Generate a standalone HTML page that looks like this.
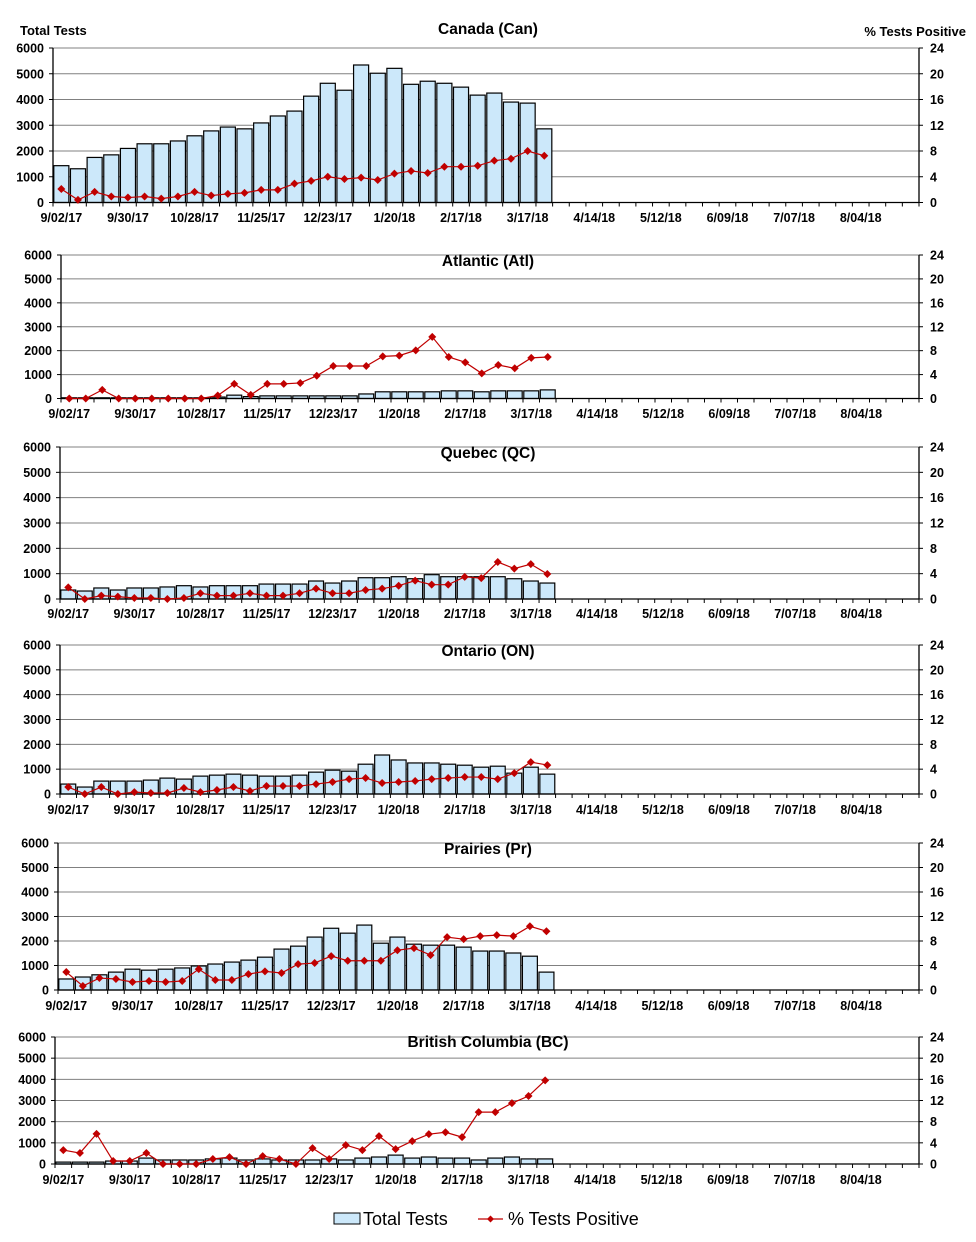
<!DOCTYPE html>
<html><head><meta charset="utf-8"><style>
body{margin:0;background:#fff;}
svg{display:block;font-family:"Liberation Sans",Arial,sans-serif;}
</style></head><body>
<svg id="chart" width="976" height="1242" viewBox="0 0 976 1242" xmlns="http://www.w3.org/2000/svg">
<text x="20" y="35" font-size="13" font-weight="bold">Total Tests</text>
<text x="966" y="36" font-size="13" font-weight="bold" text-anchor="end">% Tests Positive</text>
<g>
<rect x="334" y="1213" width="26" height="11" fill="#cce8fa" stroke="#000" stroke-width="1"/>
<text x="363" y="1225" font-size="18">Total Tests</text>
<line x1="478" y1="1219" x2="503" y2="1219" stroke="#c00000" stroke-width="1.2"/>
<path d="M490.5 1215.5 L494 1219 L490.5 1222.5 L487 1219 Z" fill="#c00000"/>
<text x="508" y="1225" font-size="18">% Tests Positive</text>
</g>
</svg>
<script>
const tickLabels = ["9/02/17","9/30/17","10/28/17","11/25/17","12/23/17","1/20/18","2/17/18","3/17/18","4/14/18","5/12/18","6/09/18","7/07/18","8/04/18"];
const leftTicks = [0,1000,2000,3000,4000,5000,6000];
const rightTicks = [0,4,8,12,16,20,24];
const regionNames = ["Canada (Can)","Atlantic (Atl)","Quebec (QC)","Ontario (ON)","Prairies (Pr)","British Columbia (BC)"];
const canTests = [1430,1310,1750,1850,2100,2280,2280,2390,2590,2780,2930,2860,3090,3360,3550,4130,4630,4360,5340,5020,5210,4590,4710,4630,4480,4170,4250,3900,3860,2860];
const canPos = [2.1,0.4,1.65,0.93,0.77,0.93,0.6,0.93,1.65,1.08,1.34,1.5,1.96,1.96,2.93,3.35,4.0,3.65,3.86,3.5,4.48,4.9,4.58,5.56,5.56,5.7,6.5,6.8,8.0,7.26];
const atlTests = [30,30,30,30,30,30,30,30,30,60,140,80,110,110,110,110,110,110,190,280,280,280,280,320,320,280,320,320,320,360];
const atlPos = [0,0,1.44,0,0,0,0,0,0,0.5,2.44,0.6,2.44,2.44,2.6,3.8,5.44,5.44,5.44,7.05,7.17,8.05,10.3,6.94,6.05,4.2,5.6,5.05,6.8,6.94];
const qcTests = [355,315,435,355,435,435,475,525,475,525,525,525,590,590,590,710,630,710,840,840,880,800,960,880,880,880,880,800,710,630];
const qcPos = [1.84,0,0.53,0.37,0.16,0.16,0,0.16,0.9,0.53,0.53,0.9,0.53,0.53,0.9,1.63,0.9,0.9,1.42,1.63,2.1,2.9,2.26,2.26,3.5,3.3,5.84,4.8,5.5,3.95];
const onTests = [400,280,520,520,520,560,640,600,720,760,800,760,720,720,760,880,960,920,1200,1570,1370,1250,1250,1200,1160,1080,1120,840,1080,800];
const onPos = [1.12,0,1.12,0,0.3,0.16,0.16,0.96,0.3,0.64,1.12,0.48,1.28,1.28,1.28,1.6,1.93,2.4,2.57,1.77,1.93,2.1,2.4,2.57,2.73,2.73,2.4,3.37,5.14,4.66];
const prTests = [450,530,620,730,850,810,850,900,980,1060,1140,1220,1340,1670,1790,2160,2520,2320,2650,1910,2160,1870,1830,1830,1750,1590,1590,1510,1380,730];
const prPos = [2.93,0.65,1.95,1.8,1.3,1.47,1.3,1.47,3.4,1.63,1.63,2.6,3.04,2.77,4.23,4.4,5.54,4.78,4.78,4.78,6.5,6.84,5.7,8.63,8.3,8.8,8.96,8.8,10.4,9.6];
const bcTests = [90,90,90,140,140,280,190,190,190,240,280,190,240,190,190,190,240,190,280,330,420,280,330,280,280,190,280,330,240,240];
const bcPos = [2.63,2.07,5.7,0.56,0.56,2.07,0,0,0,0.94,1.3,0,1.5,0.94,0,3.0,0.94,3.57,2.63,5.27,2.82,4.33,5.64,6.0,5.08,9.8,9.8,11.5,12.85,15.8];
const seriesTests = [canTests,atlTests,qcTests,onTests,prTests,bcTests];
const seriesPos = [canPos,atlPos,qcPos,onPos,prPos,bcPos];

const NCAT = 52, TMAX = 6000, PMAX = 24;
const geom = [
 {top:48,bottom:202.5,left:53,right:919,ty:34,ly:222},
 {top:255,bottom:398.5,left:61,right:919,ty:266,ly:418},
 {top:447,bottom:599,left:60,right:919,ty:458,ly:618},
 {top:645,bottom:794,left:60,right:919,ty:656,ly:814},
 {top:843,bottom:990,left:58,right:919,ty:854,ly:1010},
 {top:1037,bottom:1164,left:55,right:919,ty:1047,ly:1184}
];
const NS = "http://www.w3.org/2000/svg";
const svg = document.getElementById('chart');
function mk(tag, attrs, parent){const e=document.createElementNS(NS,tag);for(const k in attrs)e.setAttribute(k,attrs[k]);parent.appendChild(e);return e;}

geom.forEach((g,pi)=>{
  const cw=(g.right-g.left)/NCAT;
  const xC=i=>g.left+cw*(i+0.5);
  const yL=v=>g.bottom-(v/TMAX)*(g.bottom-g.top);
  const yR=v=>g.bottom-(v/PMAX)*(g.bottom-g.top);
  const grp=mk('g',{},svg);
  
  
  leftTicks.forEach(t=>{
    const y=yL(t);
    if(t>0){const gl=mk('line',{x1:g.left,x2:g.right,y1:y,y2:y,stroke:'#808080','stroke-width':1},grp);
      
      }
    const tk=mk('line',{x1:g.left-4,x2:g.left,y1:y,y2:y,stroke:'#000'},grp);
    
    
    const tx=mk('text',{x:g.left-9,y:y+4.5,'font-size':12.5,'font-weight':'bold','text-anchor':'end'},grp);
    tx.textContent=t;
    
    
  });
  rightTicks.forEach(t=>{
    const y=yR(t);
    const tk=mk('line',{x1:g.right,x2:g.right+4,y1:y,y2:y,stroke:'#000'},grp);
    
    
    const tx=mk('text',{x:g.right+11,y:y+4.5,'font-size':12.5,'font-weight':'bold'},grp);
    tx.textContent=t;
    
    
  });
  // bars
  seriesTests[pi].forEach((v,i)=>{
    const y=yL(v);
    const b=mk('rect',{x:g.left+cw*i+0.8,y:y,width:cw-1.6,height:Math.max(g.bottom-y,0),fill:'#cce8fa',stroke:'#000','stroke-width':1.2},grp);
    
    
  });
  // axes
  const ax=mk('line',{x1:g.left,x2:g.right,y1:g.bottom,y2:g.bottom,stroke:'#000','stroke-width':1.3},grp);
  
  
  const la=mk('line',{x1:g.left,x2:g.left,y1:g.top,y2:g.bottom,stroke:'#000','stroke-width':1.3},grp);
  
  
  const ra=mk('line',{x1:g.right,x2:g.right,y1:g.top,y2:g.bottom,stroke:'#000','stroke-width':1.3},grp);
  
  
  for(let i=0;i<=NCAT;i++){
    const x=g.left+cw*i;
    const t=mk('line',{x1:x,x2:x,y1:g.bottom,y2:g.bottom+4,stroke:'#000'},grp);
    
    
  }
  tickLabels.forEach((l,k)=>{
    const tx=mk('text',{x:xC(k*4),y:g.ly,'font-size':12.5,'font-weight':'bold','text-anchor':'middle'},grp);
    tx.textContent=l;
    
    
  });
  // line
  const pts=seriesPos[pi].map((v,i)=>xC(i)+','+yR(v)).join(' ');
  const pl=mk('polyline',{points:pts,fill:'none',stroke:'#c00000','stroke-width':1.2},grp);
  
  
  seriesPos[pi].forEach((v,i)=>{
    const x=xC(i),y=yR(v);
    const m=mk('path',{d:`M${x} ${y-4} L${x+4} ${y} L${x} ${y+4} L${x-4} ${y} Z`,fill:'#c00000'},grp);
    
    
  });
  const tt=mk('text',{x:488,y:g.ty,'font-size':15.5,'font-weight':'bold','text-anchor':'middle'},grp);
  tt.textContent=regionNames[pi];
  
  
});
</script>
</body></html>
